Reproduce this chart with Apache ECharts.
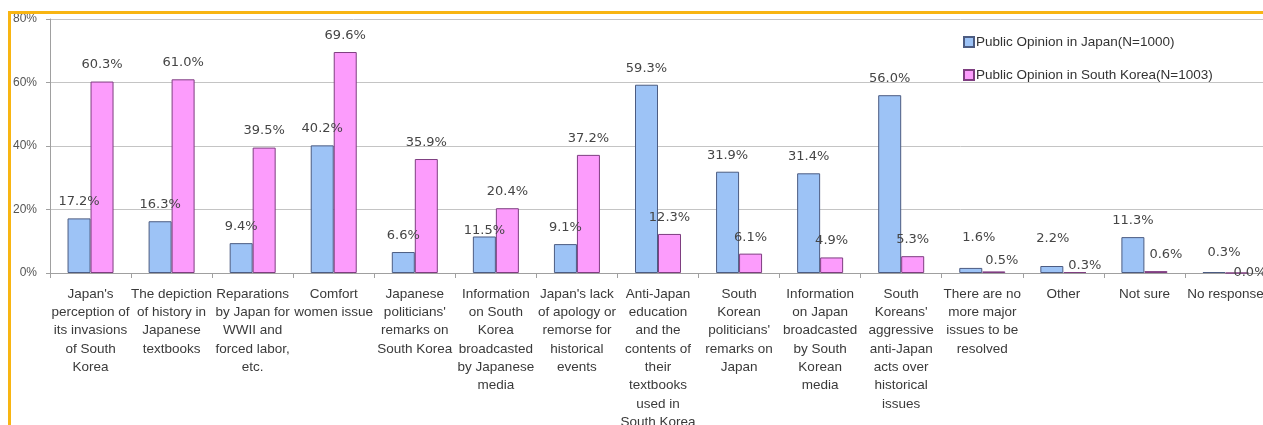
<!DOCTYPE html>
<html>
<head>
<meta charset="utf-8">
<script src="https://cdn.jsdelivr.net/npm/echarts@6/dist/echarts.min.js"></script>
<style>
  html, body { margin: 0; padding: 0; background: #fff; overflow: hidden; }
  #chart { position: absolute; left: 0; top: 0; width: 1263px; height: 425px; }
  #frame { position: absolute; left: 8px; top: 11px; width: 1300px; height: 500px;
           border-top: 3px solid #f8b512; border-left: 3px solid #f8b512; pointer-events: none; }
</style>
</head>
<body>
<div id="chart"></div>
<div id="frame"></div>
<script>
var categories = [
  "Japan's\nperception of\nits invasions\nof South\nKorea",
  "The depiction\nof history in\nJapanese\ntextbooks",
  "Reparations\nby Japan for\nWWII and\nforced labor,\netc.",
  "Comfort\nwomen issue",
  "Japanese\npoliticians'\nremarks on\nSouth Korea",
  "Information\non South\nKorea\nbroadcasted\nby Japanese\nmedia",
  "Japan's lack\nof apology or\nremorse for\nhistorical\nevents",
  "Anti-Japan\neducation\nand the\ncontents of\ntheir\ntextbooks\nused in\nSouth Korea",
  "South\nKorean\npoliticians'\nremarks on\nJapan",
  "Information\non Japan\nbroadcasted\nby South\nKorean\nmedia",
  "South\nKoreans'\naggressive\nanti-Japan\nacts over\nhistorical\nissues",
  "There are no\nmore major\nissues to be\nresolved",
  "Other",
  "Not sure",
  "No response"
];
var seriesNames = ["Public Opinion in Japan(N=1000)", "Public Opinion in South Korea(N=1003)"];
var japanValues = [17.2, 16.3, 9.4, 40.2, 6.6, 11.5, 9.1, 59.3, 31.9, 31.4, 56.0, 1.6, 2.2, 11.3, 0.3];
var koreaValues = [60.3, 61.0, 39.5, 69.6, 35.9, 20.4, 37.2, 12.3, 6.1, 4.9, 5.3, 0.5, 0.3, 0.6, 0.0];
var yTicks = { min: 0, max: 80, interval: 20 };

// label nudges (style only): index -> [dx, dy]
var japanNudge = { 5: [0, 11], 11: [8, -14], 12: [1, -11], 14: [10, -3] };
var koreaNudge = { 11: [8, 6], 12: [10, 10], 13: [10, 0], 14: [13, 17] };

function build(values, nudge) {
  return values.map(function (v, i) {
    var item = { value: v };
    if (nudge[i]) item.label = { offset: nudge[i] };
    return item;
  });
}

var labelStyle = {
  show: true,
  position: 'top',
  distance: 10,
  fontFamily: 'DejaVu Sans',
  fontSize: 13,
  color: '#454545',
  formatter: function (p) { return p.value.toFixed(1) + '%'; }
};

var chart = echarts.init(document.getElementById('chart'), null, { renderer: 'canvas' });
chart.setOption({
  animation: false,
  backgroundColor: '#ffffff',
  grid: { left: 50, top: 19, width: 1216, height: 254, containLabel: false, outerBoundsMode: 'none' },
  legend: {
    orient: 'vertical',
    left: 958,
    top: 30,
    itemWidth: 10,
    itemHeight: 10,
    itemGap: 19,
    icon: 'rect',
    textStyle: { fontFamily: 'Liberation Sans', fontSize: 13.5, color: '#333', padding: [0, 0, 0, -3] },
    data: seriesNames
  },
  xAxis: {
    type: 'category',
    data: categories,
    axisLine: { lineStyle: { color: '#a0a0a0', width: 1 } },
    axisTick: { show: true, length: 5, lineStyle: { color: '#a0a0a0' } },
    axisLabel: {
      interval: 0,
      margin: 12,
      fontFamily: 'Liberation Sans',
      fontSize: 13.5,
      lineHeight: 18.3,
      color: '#3a3a3a',
      align: 'center'
    }
  },
  yAxis: {
    type: 'value',
    min: yTicks.min,
    max: yTicks.max,
    interval: yTicks.interval,
    axisLine: { show: true, lineStyle: { color: '#a0a0a0' } },
    axisTick: { show: true, length: 4, lineStyle: { color: '#a0a0a0' } },
    splitLine: { lineStyle: { color: '#c4c4c4', width: 1 } },
    axisLabel: {
      formatter: '{value}%',
      margin: 13,
      fontFamily: 'Liberation Sans',
      fontSize: 12,
      color: '#555'
    }
  },
  series: [
    {
      name: seriesNames[0],
      type: 'bar',
      barWidth: 23,
      barGap: '0%',
      data: build(japanValues, japanNudge),
      itemStyle: { color: '#9dc3f6', borderColor: '#4c5c82', borderWidth: 1 },
      label: labelStyle
    },
    {
      name: seriesNames[1],
      type: 'bar',
      barWidth: 23,
      barGap: '0%',
      data: build(koreaValues, koreaNudge),
      itemStyle: { color: '#fc9cfc', borderColor: '#7e3e80', borderWidth: 1 },
      label: labelStyle
    }
  ]
});
</script>
</body>
</html>
